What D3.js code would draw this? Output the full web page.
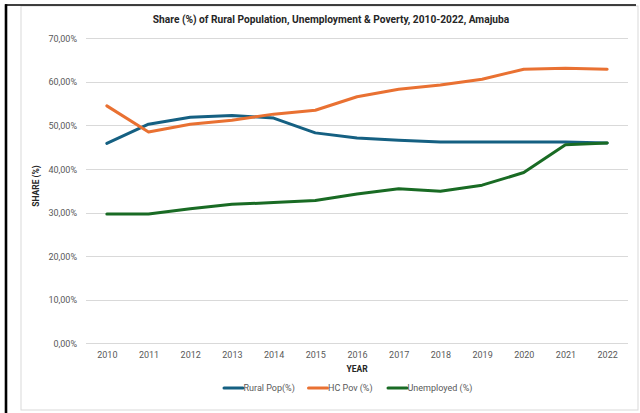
<!DOCTYPE html>
<html>
<head>
<meta charset="utf-8">
<script src="https://cdn.jsdelivr.net/npm/d3@7"></script>
<style>
  html, body { margin: 0; padding: 0; background: #fff; }
  svg { display: block; }
  text { font-family: Roboto, "Open Sans", sans-serif; }
</style>
</head>
<body>
<svg id="chart" width="640" height="413"></svg>
<script>
// Years on the category axis
const years = ["2010","2011","2012","2013","2014","2015","2016","2017","2018","2019","2020","2021","2022"];

// Shares (%) per year
const ruralPop   = [45.9, 50.3, 51.9, 52.3, 51.7, 48.3, 47.1, 46.6, 46.2, 46.2, 46.2, 46.2, 46.0];
const hcPov      = [54.5, 48.5, 50.3, 51.2, 52.6, 53.5, 56.6, 58.3, 59.3, 60.6, 62.9, 63.1, 62.9];
const unemployed = [29.7, 29.7, 30.9, 31.9, 32.3, 32.8, 34.3, 35.5, 34.9, 36.3, 39.2, 45.6, 46.0];

const seriesNames  = ["Rural Pop(%)", "HC Pov (%)", "Unemployed (%)"];
const seriesColors = ["#156082", "#E97132", "#196B24"];
const yTicks = [0, 10, 20, 30, 40, 50, 60, 70];

const series = [ruralPop, hcPov, unemployed].map((vals, i) => ({
  name: seriesNames[i],
  color: seriesColors[i],
  values: vals.map((v, j) => ({ year: years[j], value: v }))
}));

const svg = d3.select("#chart");

// Outer frame: thin black rule on top and left, light grey chart border
svg.append("rect").attr("x", 21).attr("y", 6).attr("width", 617).attr("height", 404)
  .attr("fill", "#fff").attr("stroke", "#d9d9d9").attr("stroke-width", 1);
svg.append("line").attr("x1", 5).attr("x2", 636).attr("y1", 5).attr("y2", 5)
  .attr("stroke", "#000").attr("stroke-width", 1.6);
svg.append("line").attr("x1", 6).attr("x2", 6).attr("y1", 4.2).attr("y2", 413)
  .attr("stroke", "#000").attr("stroke-width", 2.6);

const plot = { left: 86, right: 628, top: 38.3, bottom: 343.4 };

const x = d3.scalePoint().domain(years).range([plot.left, plot.right]).padding(0.5);
const y = d3.scaleLinear().domain([0, 70]).range([plot.bottom, plot.top]);

// Horizontal gridlines
svg.append("g")
  .selectAll("line")
  .data(yTicks)
  .join("line")
  .attr("x1", plot.left).attr("x2", plot.right)
  .attr("y1", d => Math.round(y(d)) + 0.5).attr("y2", d => Math.round(y(d)) + 0.5)
  .attr("stroke", "#d9d9d9").attr("stroke-width", 1);

// Y axis labels
const yAxis = d3.axisLeft(y).tickValues(yTicks).tickSize(0).tickPadding(0)
  .tickFormat(d => d3.format(".2f")(d).replace(".", ",") + "%");
svg.append("g")
  .attr("transform", `translate(77,0)`)
  .call(yAxis)
  .call(g => g.select(".domain").remove())
  .call(g => g.selectAll("text").attr("fill", "#595959").attr("font-size", 9).attr("dy", "0.34em"));

// X axis labels
const xAxis = d3.axisBottom(x).tickSize(0).tickPadding(0);
svg.append("g")
  .attr("transform", `translate(0,${plot.bottom + 8})`)
  .call(xAxis)
  .call(g => g.select(".domain").remove())
  .call(g => g.selectAll("text").attr("fill", "#595959").attr("font-size", 9).attr("dy", "0.71em"));

// Series lines
const line = d3.line().x(d => x(d.year)).y(d => y(d.value));
svg.append("g")
  .selectAll("path")
  .data(series)
  .join("path")
  .attr("d", d => line(d.values))
  .attr("fill", "none")
  .attr("stroke", d => d.color)
  .attr("stroke-width", 3)
  .attr("stroke-linejoin", "round")
  .attr("stroke-linecap", "round");

// Title
svg.append("text")
  .attr("x", 331).attr("y", 23)
  .attr("text-anchor", "middle")
  .attr("font-size", 10.2).attr("font-weight", "bold").attr("fill", "#262626")
  .text("Share (%) of Rural Population,  Unemployment & Poverty, 2010-2022, Amajuba");

// Axis titles
svg.append("text")
  .attr("x", 357).attr("y", 372)
  .attr("text-anchor", "middle")
  .attr("font-size", 8.5).attr("font-weight", "bold").attr("fill", "#262626")
  .text("YEAR");
svg.append("text")
  .attr("transform", "translate(39,186) rotate(-90)")
  .attr("text-anchor", "middle")
  .attr("font-size", 8.5).attr("font-weight", "bold").attr("fill", "#262626")
  .text("SHARE (%)");

// Legend
const legendX = [224, 308.5, 388];
const legend = svg.append("g")
  .selectAll("g")
  .data(series)
  .join("g")
  .attr("transform", (d, i) => `translate(${legendX[i]},388)`);
legend.append("line")
  .attr("x1", 0).attr("x2", 19).attr("y1", 0).attr("y2", 0)
  .attr("stroke", d => d.color).attr("stroke-width", 3).attr("stroke-linecap", "round");
legend.append("text")
  .attr("x", 19.5).attr("y", 0).attr("dy", "0.34em")
  .attr("font-size", 9).attr("fill", "#595959")
  .text(d => d.name);
</script>
</body>
</html>
